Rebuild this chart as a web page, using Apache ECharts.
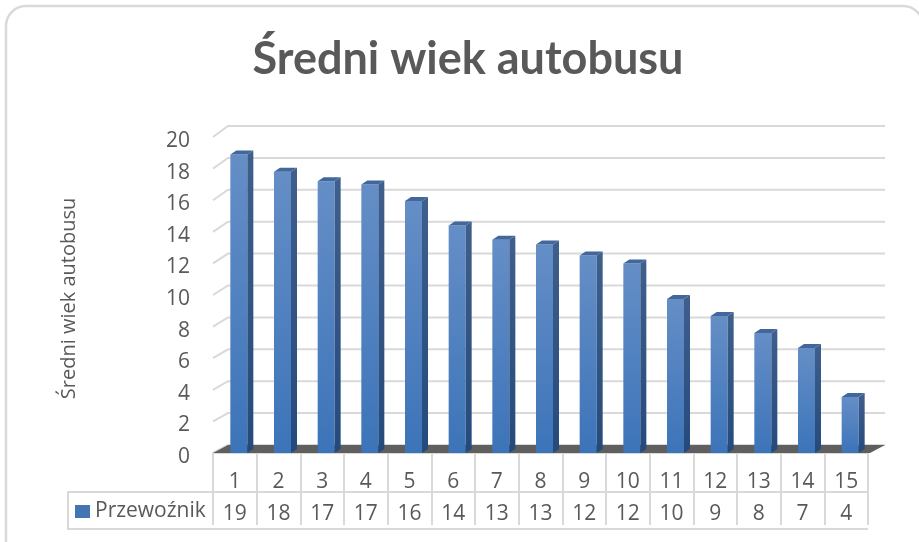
<!DOCTYPE html>
<html>
<head>
<meta charset="utf-8">
<title>Średni wiek autobusu</title>
<script src="https://cdn.jsdelivr.net/npm/echarts@6/dist/echarts.min.js"></script>
<style>
  html, body { margin: 0; padding: 0; background: #fff; }
  #chart { width: 919px; height: 542px; }
</style>
</head>
<body>
<div id="chart"></div>
<script>
  const categories = ['1', '2', '3', '4', '5', '6', '7', '8', '9', '10', '11', '12', '13', '14', '15'];
  const barValues = [18.9, 17.8, 17.2, 17.0, 15.95, 14.4, 13.5, 13.2, 12.5, 12.0, 9.75, 8.67, 7.6, 6.65, 3.54];
  const tableValues = ['19', '18', '17', '17', '16', '14', '13', '13', '12', '12', '10', '9', '8', '7', '4'];
  const yTicks = [0, 2, 4, 6, 8, 10, 12, 14, 16, 18, 20];

  const textColor = '#595959';
  const lineColor = '#d9d9d9';
  const font = '"Open Sans", sans-serif';

  // back wall sits behind the front plane of the grid
  const depthX = 15;
  const backBottom = 445;
  const backTop = 126;
  const wallRight = 885;

  function vGradient(top, bottom) {
    return new echarts.graphic.LinearGradient(0, 0, 0, 1, [
      { offset: 0, color: top },
      { offset: 1, color: bottom }
    ]);
  }

  function renderWall(params, api) {
    let val = api.value(0);
    let cs = params.coordSys;
    let frontY = api.coord([0, val])[1];
    let backY = backBottom - val * (backBottom - backTop) / 20;
    return {
      type: 'group',
      children: [{
        type: 'polyline',
        shape: { points: [[cs.x, frontY], [cs.x + depthX, backY], [wallRight, backY]] },
        style: { stroke: lineColor, lineWidth: 2, fill: null }
      }]
    };
  }

  function renderFloor(params, api) {
    let cs = params.coordSys;
    let y = api.coord([0, 0])[1];
    return {
      type: 'polygon',
      shape: {
        points: [[cs.x, y], [cs.x + depthX, backBottom], [wallRight, backBottom], [cs.x + cs.width + 2, y]]
      },
      style: { fill: '#5f5f5f' }
    };
  }

  function renderBar(params, api) {
    let p = api.coord([api.value(0), api.value(1)]);
    let base = api.coord([api.value(0), 0]);
    let left = p[0] - 4.5;
    let w = 17;
    let dx = 6;
    let dy = 4;
    let top = p[1];
    let bottom = base[1];
    return {
      type: 'group',
      children: [{
        type: 'rect',
        shape: { x: left, y: top, width: w, height: bottom - top },
        style: { fill: vGradient('#658ec6', '#3c74b9') }
      }, {
        type: 'polygon',
        shape: { points: [[left + w, top], [left + w + dx, top - dy], [left + w + dx, bottom - dy], [left + w, bottom]] },
        style: { fill: vGradient('#3f5f8c', '#244a7c') }
      }, {
        type: 'polygon',
        shape: { points: [[left, top], [left + dx, top - dy], [left + w + dx, top - dy], [left + w, top]] },
        style: { fill: '#41679c' }
      }]
    };
  }

  let chart = echarts.init(document.getElementById('chart'));
  let option = {
    animation: false,
    backgroundColor: '#fff',
    title: {
      text: 'Średni wiek autobusu',
      left: 463,
      top: 32,
      textAlign: 'center',
      textStyle: { color: textColor, fontFamily: 'Lato, sans-serif', fontWeight: 'bold', fontSize: 45 }
    },
    legend: {
      left: 75,
      top: 501,
      itemWidth: 15,
      itemHeight: 13,
      itemGap: 0,
      padding: 0,
      selectedMode: false,
      textStyle: { color: textColor, fontFamily: font, fontSize: 21, padding: [4, 0, 0, 0] },
      data: [{ name: 'Przewoźnik', icon: 'rect', itemStyle: { color: '#4474b4' } }]
    },
    grid: { left: 213, top: 137, width: 655, height: 316 },
    xAxis: [{
      type: 'category',
      data: categories,
      offset: 4,
      axisLine: { show: true, lineStyle: { color: lineColor, width: 2 } },
      axisTick: { show: true, length: 72, lineStyle: { color: lineColor, width: 2 } },
      axisLabel: { color: textColor, fontFamily: font, fontSize: 21, margin: 15, interval: 0 }
    }, {
      type: 'category',
      position: 'bottom',
      data: tableValues,
      offset: 39,
      axisLine: { show: true, lineStyle: { color: lineColor, width: 2 } },
      axisTick: { show: false },
      axisLabel: { color: textColor, fontFamily: font, fontSize: 21, margin: 12, interval: 0 }
    }],
    yAxis: {
      type: 'value',
      min: 0,
      max: 20,
      interval: 2,
      name: 'Średni wiek autobusu',
      nameLocation: 'middle',
      nameGap: 134,
      nameTextStyle: { color: textColor, fontFamily: font, fontSize: 20, padding: [0, 7, 0, 0] },
      axisLine: { show: false },
      axisTick: { show: false },
      splitLine: { show: false },
      axisLabel: { color: textColor, fontFamily: font, fontSize: 21, margin: 23, verticalAlign: 'top', lineHeight: 8 }
    },
    graphic: [{
      type: 'rect',
      silent: true,
      z: -1,
      shape: { x: 6, y: 6, width: 917, height: 560, r: 20 },
      style: { fill: '#fff', stroke: lineColor, lineWidth: 2.5 }
    }, {
      type: 'polyline',
      silent: true,
      shape: { points: [[213, 492], [68, 492], [68, 529], [868, 529]] },
      style: { stroke: lineColor, lineWidth: 2, fill: null }
    }],
    series: [{
      name: 'wall',
      type: 'custom',
      renderItem: renderWall,
      data: yTicks.map(v => [v]),
      encode: { y: 0 },
      silent: true,
      z: 1
    }, {
      name: 'floor',
      type: 'custom',
      renderItem: renderFloor,
      data: [[0]],
      encode: { y: 0 },
      silent: true,
      z: 2
    }, {
      name: 'Przewoźnik',
      type: 'custom',
      renderItem: renderBar,
      data: barValues.map((v, i) => [i, v]),
      encode: { x: 0, y: 1 },
      itemStyle: { color: '#4474b4' },
      z: 3
    }]
  };
  chart.setOption(option);
</script>
</body>
</html>
